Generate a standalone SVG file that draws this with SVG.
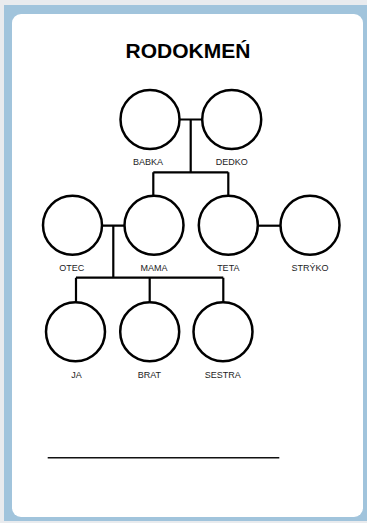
<svg xmlns="http://www.w3.org/2000/svg" width="367" height="523" viewBox="0 0 367 523">
<style>
.p{fill:#fff;stroke:#000;stroke-width:2.5}
.c{fill:none;stroke:#000;stroke-width:2.2}
.l{font-family:"Liberation Sans",Arial,sans-serif;font-size:9px;fill:#1c1c24;text-anchor:middle}
.t{font-family:"Liberation Sans",Arial,sans-serif;font-size:21px;font-weight:bold;fill:#000;text-anchor:middle}
</style>
<rect x="0" y="0" width="367" height="523" fill="#e9ebee"/>
<rect x="4" y="5" width="363" height="516" fill="#a1c4dc"/>
<rect x="12" y="14" width="351" height="503" rx="9" fill="#fff"/>
<text class="t" x="188" y="58">RODOKMEŃ</text>
<g id="connectors">
<path class="c" d="M180 119.5H202M190.7 119.5V172.3M153.3 172.3H228.3M153.3 172.3V196M228.3 172.3V196"/>
<path class="c" d="M101.5 225.7H125M113.3 225.7V277.7M76 277.7H223.3M76 277.7V302.5M149.7 277.7V302.5M223.3 277.7V302.5"/>
<path class="c" d="M258 225.7H281"/>
</g>
<g id="babka"><circle class="p" cx="150" cy="119.5" r="29.5"/><text class="l" x="148" y="165">BABKA</text></g>
<g id="dedko"><circle class="p" cx="231.7" cy="119.5" r="29.5"/><text class="l" x="231.7" y="165">DEDKO</text></g>
<g id="otec"><circle class="p" cx="72.5" cy="225.3" r="29.5"/><text class="l" x="71.7" y="270.7">OTEC</text></g>
<g id="mama"><circle class="p" cx="154" cy="225.3" r="29.5"/><text class="l" x="154" y="270.7">MAMA</text></g>
<g id="teta"><circle class="p" cx="228.3" cy="225.3" r="29.5"/><text class="l" x="228.3" y="270.7">TETA</text></g>
<g id="stryko"><circle class="p" cx="310" cy="225.3" r="29.5"/><text class="l" x="310" y="270.7">STRÝKO</text></g>
<g id="ja"><circle class="p" cx="75.5" cy="331.8" r="29.5"/><text class="l" x="76.5" y="378.3">JA</text></g>
<g id="brat"><circle class="p" cx="149.7" cy="331.8" r="29.5"/><text class="l" x="149.3" y="378.3">BRAT</text></g>
<g id="sestra"><circle class="p" cx="223" cy="331.8" r="29.5"/><text class="l" x="222.7" y="378.3">SESTRA</text></g>
<line x1="47.7" y1="457.7" x2="279.3" y2="457.7" stroke="#111" stroke-width="1.6"/>
</svg>
